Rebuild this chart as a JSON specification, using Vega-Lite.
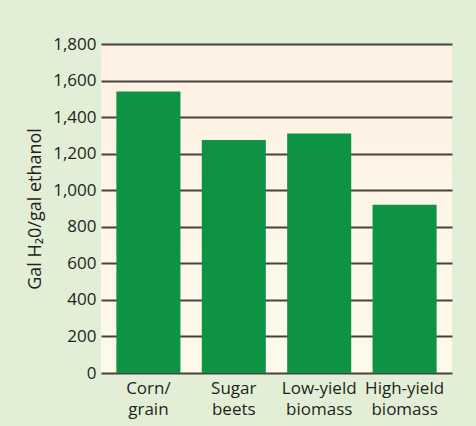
{
  "$schema": "https://vega.github.io/schema/vega-lite/v6.json",
  "width": 351,
  "height": 329,
  "autosize": {"type": "none"},
  "padding": {"left": 101, "top": 44, "right": 24, "bottom": 53},
  "background": "#e2efd6",
  "view": {
    "stroke": null,
    "fill": {
      "gradient": "linear",
      "x1": 0, "y1": 0, "x2": 0, "y2": 1,
      "stops": [
        {"offset": 0, "color": "#fdf1e3"},
        {"offset": 1, "color": "#fefbea"}
      ]
    }
  },
  "data": {
    "values": [
      {"crop": "Corn/\ngrain", "water": 1540},
      {"crop": "Sugar\nbeets", "water": 1275},
      {"crop": "Low-yield\nbiomass", "water": 1310},
      {"crop": "High-yield\nbiomass", "water": 920}
    ]
  },
  "mark": {"type": "bar", "color": "#0e9244"},
  "encoding": {
    "x": {
      "field": "crop",
      "type": "nominal",
      "sort": null,
      "scale": {"paddingInner": 0.25, "paddingOuter": 0.18},
      "axis": {
        "title": null,
        "labelAngle": 0,
        "domain": false,
        "ticks": false,
        "labelPadding": 7,
        "labelExpr": "split(datum.label, '\\n')",
        "labelLineHeight": 21,
        "labelFontSize": 17
      }
    },
    "y": {
      "field": "water",
      "type": "quantitative",
      "scale": {"domain": [0, 1800]},
      "axis": {
        "title": "Gal H₂0/gal ethanol",
        "values": [0, 200, 400, 600, 800, 1000, 1200, 1400, 1600, 1800],
        "format": ",d",
        "domain": false,
        "ticks": false,
        "grid": true,
        "gridColor": "#48423f",
        "gridWidth": 2,
        "gridOpacity": 1,
        "labelPadding": 5,
        "labelFontSize": 17,
        "titleFontSize": 18,
        "titleFontWeight": "normal",
        "titlePadding": 8
      }
    }
  },
  "config": {
    "font": "Open Sans",
    "axis": {
      "labelColor": "#231f20",
      "titleColor": "#231f20",
      "labelFont": "Open Sans",
      "titleFont": "Open Sans"
    }
  }
}
